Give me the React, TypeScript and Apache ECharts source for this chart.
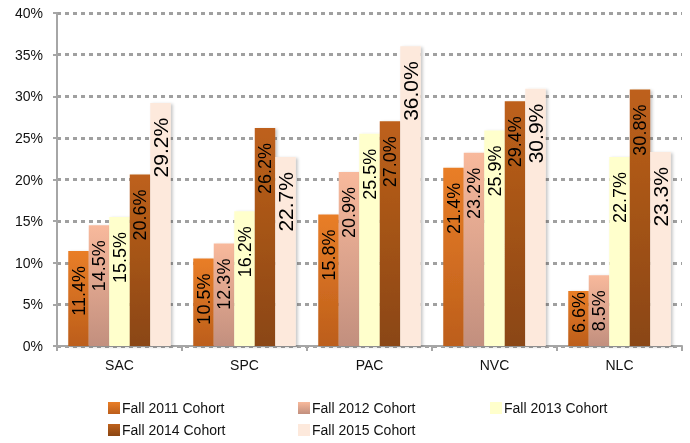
import React, { useEffect, useRef } from "react";
import * as echarts from "echarts";

const categories = ["SAC", "SPC", "PAC", "NVC", "NLC"];
const seriesNames = [
  "Fall 2011 Cohort",
  "Fall 2012 Cohort",
  "Fall 2013 Cohort",
  "Fall 2014 Cohort",
  "Fall 2015 Cohort",
];
const fall2011 = [11.4, 10.5, 15.8, 21.4, 6.6];
const fall2012 = [14.5, 12.3, 20.9, 23.2, 8.5];
const fall2013 = [15.5, 16.2, 25.5, 25.9, 22.7];
const fall2014 = [20.6, 26.2, 27.0, 29.4, 30.8];
const fall2015 = [29.2, 22.7, 36.0, 30.9, 23.3];
const yTicks = { min: 0, max: 40, interval: 5 };

const FONT = "'Liberation Sans', Arial, sans-serif";

const grad = (top: string, bottom: string) =>
  new echarts.graphic.LinearGradient(0, 0, 0, 1, [
    { offset: 0, color: top },
    { offset: 1, color: bottom },
  ]);

export default function App() {
  const ref = useRef<HTMLDivElement>(null);
  useEffect(() => {
    if (!ref.current) return;
    const chart = echarts.init(ref.current, undefined, { renderer: "svg" });
    const allData = [fall2011, fall2012, fall2013, fall2014, fall2015];
    const colors = [
      grad("#E97E27", "#BC5E1B"),
      grad("#F8B99C", "#C28F7E"),
      "#FFFFCC",
      grad("#BE611B", "#8A4613"),
      "#FDE9DC",
    ];
    const series = allData.map((d, i) => ({
      name: seriesNames[i],
      type: "bar",
      barGap: "0%",
      barCategoryGap: "18%",
      data: d.map((v) => ({
        value: v,
        label: v < 7 ? { distance: 1 } : undefined,
      })),
      itemStyle: {
        color: colors[i],
        shadowColor: "rgba(0,0,0,0.22)",
        shadowBlur: 3,
        shadowOffsetX: 2,
        shadowOffsetY: 1,
      },
      label: {
        show: true,
        position: "insideTop",
        distance: 15,
        rotate: 90,
        align: "right",
        verticalAlign: "middle",
        color: "#000",
        fontFamily: FONT,
        fontSize: i === 4 ? 21 : 18,
        formatter: (p: any) => `${Number(p.value).toFixed(1)}%`,
      },
    }));
    const legendPos = [
      { left: 108, top: 401 },
      { left: 298, top: 401 },
      { left: 490, top: 401 },
      { left: 108, top: 423 },
      { left: 298, top: 423 },
    ];
    const legends = seriesNames.map((n, i) => ({
      data: [n],
      left: legendPos[i].left,
      top: legendPos[i].top,
      padding: 0,
      itemWidth: 12,
      itemHeight: 12,
      icon: "rect",
      textStyle: {
        fontFamily: FONT,
        fontSize: 14,
        color: "#111",
        padding: [0, 0, 0, -3],
      },
      itemStyle: { shadowBlur: 0, shadowOffsetX: 0, shadowOffsetY: 0 },
    }));
    chart.setOption({
      animation: false,
      grid: { left: 57, right: 8, top: 13, bottom: 97, containLabel: false },
      legend: legends,
      xAxis: {
        type: "category",
        data: categories,
        axisLine: { lineStyle: { color: "#A6A6A6", width: 2 } },
        axisTick: { show: true, alignWithLabel: false, length: 5, lineStyle: { color: "#A6A6A6", width: 2 } },
        axisLabel: { fontFamily: FONT, fontSize: 14, color: "#111", margin: 12 },
      },
      yAxis: {
        type: "value",
        min: yTicks.min,
        max: yTicks.max,
        interval: yTicks.interval,
        axisLine: { show: true, lineStyle: { color: "#A6A6A6", width: 2 } },
        axisTick: { show: true, length: 4, lineStyle: { color: "#A6A6A6", width: 2 } },
        axisLabel: {
          fontFamily: FONT,
          fontSize: 14,
          color: "#111",
          margin: 14,
          formatter: "{value}%",
        },
        splitLine: {
          show: true,
          lineStyle: { color: "#A0A0A0", width: 3, type: [4, 4] },
        },
      },
      series,
    });
    return () => chart.dispose();
  }, []);
  return (
    <div
      ref={ref}
      style={{ position: "fixed", left: 0, top: 0, width: 690, height: 443 }}
    />
  );
}
